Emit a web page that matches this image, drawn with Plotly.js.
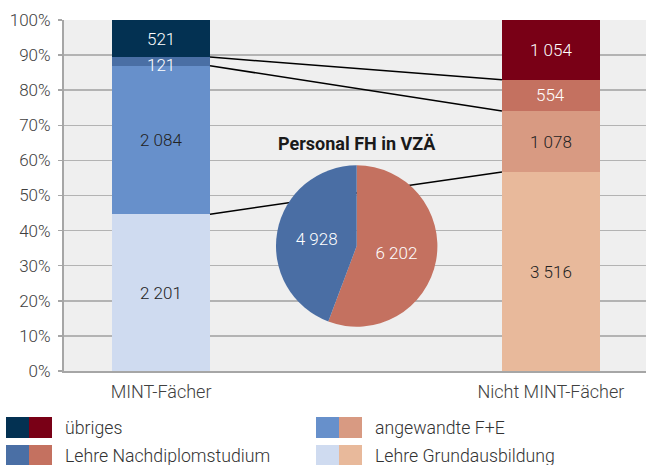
<!DOCTYPE html>
<html>
<head>
<meta charset="utf-8">
<script src="https://cdn.plot.ly/plotly-3.0.1.min.js"></script>
<style>
html,body{margin:0;padding:0;background:#fff;}
#chart{width:646px;height:465px;}
</style>
</head>
<body>
<div id="chart"></div>
<script>
// ---- data ----
const categories = ['MINT-Fächer', 'Nicht MINT-Fächer'];
const seriesNames = ['Lehre Grundausbildung', 'angewandte F+E', 'Lehre Nachdiplomstudium', 'übriges'];
const mintValues = [2201, 2084, 121, 521];
const nichtMintValues = [3516, 1078, 554, 1054];
const pieLabels = ['Nicht MINT-Fächer', 'MINT-Fächer'];
const pieValues = [6202, 4928];
const pieTitle = 'Personal FH in VZÄ';
const yTickValues = [0, 0.1, 0.2, 0.3, 0.4, 0.5, 0.6, 0.7, 0.8, 0.9, 1.0];

// ---- styles ----
const mintColors = ['#cfdbf0', '#6790cb', '#4a6fa5', '#033152'];
const nichtColors = ['#e8b99b', '#d89a82', '#c47160', '#790016'];
const labelColors = ['#222222', '#222222', '#ffffff', '#ffffff'];
const pieColors = ['#c47160', '#4a6ea4'];
const FONT = 'Roboto, "Liberation Sans", sans-serif';
const WEIGHT = 300;
const W = 646, H = 465, M = {l: 64, r: 0, t: 20, b: 94};
const PW = W - M.l - M.r, PH = H - M.t - M.b;
const px2x = px => (px - M.l) / PW;
const py2y = py => (H - M.b - py) / PH;
const barWidth = 0.251;
const fmt = v => String(v).replace(/\B(?=(\d{3})+(?!\d))/g, ' ');

const sum = a => a.reduce((s, v) => s + v, 0);
const mintTotal = sum(mintValues), nichtTotal = sum(nichtMintValues);
const cum = (arr, tot) => { let c = 0; return arr.map(v => { const lo = c; c += v; return [lo / tot, c / tot]; }); };
const mintCum = cum(mintValues, mintTotal);
const nichtCum = cum(nichtMintValues, nichtTotal);

const traces = [];
seriesNames.forEach((name, i) => {
  traces.push({
    type: 'bar', name: name, x: [0, 1], y: [mintValues[i], nichtMintValues[i]],
    width: barWidth, marker: {color: [mintColors[i], nichtColors[i]], line: {width: 0}},
    textposition: 'none', hoverinfo: 'skip', showlegend: false
  });
});
// connector lines between boundaries (top of series 0,1,2)
[0, 1, 2].forEach(i => {
  traces.push({
    type: 'scatter', mode: 'lines', x: [barWidth / 2, 1 - barWidth / 2],
    y: [mintCum[i][1], nichtCum[i][1]], line: {color: '#000000', width: 1.5},
    hoverinfo: 'skip', showlegend: false
  });
});
traces.push({
  type: 'pie', values: pieValues, labels: pieLabels, sort: false, direction: 'clockwise', rotation: 0,
  marker: {colors: pieColors, line: {width: 0}},
  text: pieValues.map(fmt), textinfo: 'text', textposition: 'inside', insidetextorientation: 'horizontal',
  textfont: {family: FONT, size: 17, color: '#ffffff', weight: WEIGHT},
  domain: {x: [px2x(276), px2x(437.4)], y: [py2y(327), py2y(165)]},
  showlegend: false, hoverinfo: 'skip'
});

const annotations = [];
// bar value labels
seriesNames.forEach((name, i) => {
  [[0, mintValues, mintCum], [1, nichtMintValues, nichtCum]].forEach(([xi, vals, cm]) => {
    annotations.push({
      x: xi, y: (cm[i][0] + cm[i][1]) / 2, xref: 'x', yref: 'y', text: fmt(vals[i]),
      showarrow: false, xanchor: 'center', yanchor: 'middle',
      yshift: (i === 2 && xi === 0) ? -4 : 0,
      font: {family: FONT, size: 17, color: labelColors[i], weight: WEIGHT}
    });
  });
});
// pie title
annotations.push({
  x: px2x(357), y: py2y(143), xref: 'paper', yref: 'paper', text: '<b>' + pieTitle + '</b>',
  showarrow: false, xanchor: 'center', yanchor: 'middle',
  font: {family: FONT, size: 18, color: '#1a1a1a'}
});

// custom legend: two colour swatches + label
const shapes = [];
const legendOrder = [3, 1, 2, 0];
const legendCols = [6, 316];
const legendRows = [417, 445];
legendOrder.forEach((si, k) => {
  const colPx = legendCols[k % 2], rowPx = legendRows[Math.floor(k / 2)];
  shapes.push({type: 'rect', xref: 'paper', yref: 'paper', x0: px2x(colPx), x1: px2x(colPx + 23),
    y0: py2y(rowPx + 21), y1: py2y(rowPx), fillcolor: mintColors[si], line: {width: 0}});
  shapes.push({type: 'rect', xref: 'paper', yref: 'paper', x0: px2x(colPx + 23), x1: px2x(colPx + 46),
    y0: py2y(rowPx + 21), y1: py2y(rowPx), fillcolor: nichtColors[si], line: {width: 0}});
  annotations.push({
    x: px2x(colPx + 57), y: py2y(rowPx + 10.5), xref: 'paper', yref: 'paper', text: seriesNames[si],
    showarrow: false, xanchor: 'left', yanchor: 'middle',
    font: {family: FONT, size: 17.7, color: '#333333', weight: WEIGHT}
  });
});

const layout = {
  width: W, height: H, margin: M,
  paper_bgcolor: '#ffffff', plot_bgcolor: '#efefef',
  barmode: 'stack', barnorm: 'fraction',
  font: {family: FONT, size: 17, color: '#404040', weight: WEIGHT},
  xaxis: {
    range: [-0.249, 1.244], tickvals: [0, 1], ticktext: categories, showgrid: false, zeroline: false,
    showline: true, linecolor: '#a6a6a6', linewidth: 2, ticks: '', fixedrange: true, ticklabelstandoff: 3,
    tickfont: {family: FONT, size: 18, color: '#404040', weight: WEIGHT}
  },
  yaxis: {
    range: [0, 1], tickvals: yTickValues, tickformat: '.0%', showgrid: true, gridcolor: '#b3b3b3', gridwidth: 1.5,
    zeroline: false, showline: true, linecolor: '#a6a6a6', linewidth: 2, ticks: 'outside', ticklen: 4,
    tickcolor: '#a6a6a6', tickwidth: 1.5, fixedrange: true, ticklabelstandoff: 4,
    tickfont: {family: FONT, size: 17, color: '#404040', weight: WEIGHT}
  },
  shapes: shapes, annotations: annotations, showlegend: false
};

Plotly.newPlot('chart', traces, layout, {staticPlot: true, displayModeBar: false});
</script>
</body>
</html>
